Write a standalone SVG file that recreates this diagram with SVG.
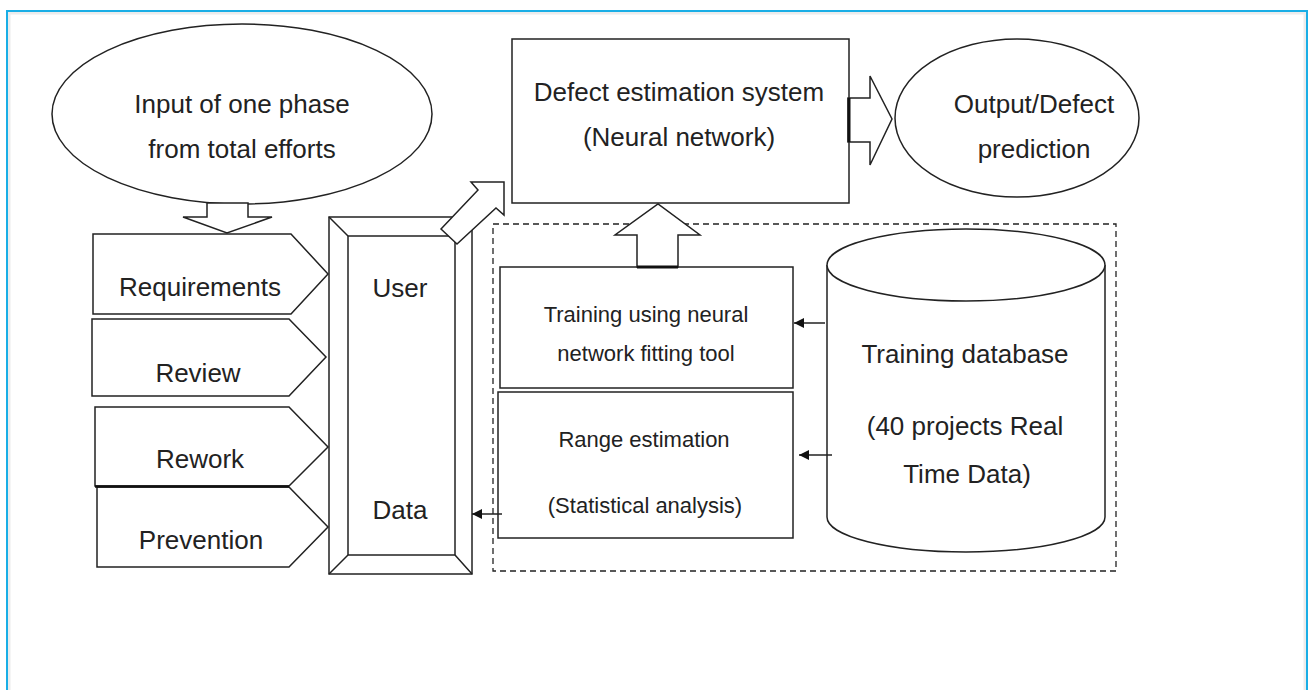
<svg xmlns="http://www.w3.org/2000/svg" width="1310" height="690" viewBox="0 0 1310 690">
<style>
.s{fill:#fff;stroke:#222;stroke-width:1.5}
.t{font-family:"Liberation Sans",Arial,sans-serif;font-size:26px;fill:#222;text-anchor:middle}
.ts{font-family:"Liberation Sans",Arial,sans-serif;font-size:22px;fill:#222;text-anchor:middle}
.c{stroke:#222;stroke-width:1.5;fill:none}
</style>
<defs>
<marker id="ah" viewBox="0 0 10 10" refX="10" refY="5" markerWidth="10" markerHeight="10" markerUnits="userSpaceOnUse" orient="auto">
<path d="M0,0 L10,5 L0,10 z" fill="#111"/>
</marker>
</defs>
<rect width="1310" height="690" fill="#fff"/>
<rect x="9" y="13" width="1296" height="700" fill="none" stroke="#ececec" stroke-width="3"/>
<rect x="7" y="11" width="1300" height="700" fill="none" stroke="#1aaee6" stroke-width="2"/>

<g id="input-ellipse">
<ellipse class="s" cx="242" cy="114" rx="190" ry="90"/>
<text class="t" x="242" y="113">Input of one phase</text>
<text class="t" x="242" y="158">from total efforts</text>
</g>

<g id="requirements">
<polygon class="s" points="93,234 291,234 328,274 291,314 93,314"/>
<text class="t" x="200" y="296">Requirements</text>
</g>
<g id="review">
<polygon class="s" points="92,319 289,319 326,357 289,396 92,396"/>
<text class="t" x="198" y="382">Review</text>
</g>
<g id="rework">
<polygon class="s" points="95,407 289,407 328,447 289,486 95,486"/>
<text class="t" x="200" y="468">Rework</text>
</g>
<g id="prevention">
<polygon class="s" points="97,487 289,487 328,527 289,567 97,567"/>
<line x1="95" y1="486.5" x2="289" y2="486.5" stroke="#111" stroke-width="2.5"/>
<text class="t" x="201" y="549">Prevention</text>
</g>

<g id="user-data">
<rect class="s" x="329" y="217" width="143" height="357"/>
<rect class="s" x="348" y="236" width="107" height="319"/>
<path class="c" d="M329,217 L348,236 M472,217 L455,236 M329,574 L348,555 M472,574 L455,555"/>
<text class="t" x="400" y="297">User</text>
<text class="t" x="400" y="519">Data</text>
</g>

<g id="defect-system">
<rect class="s" x="512" y="39" width="337" height="164"/>
<text class="t" x="679" y="101">Defect estimation system</text>
<text class="t" x="679" y="146">(Neural network)</text>
</g>

<g id="output">
<ellipse class="s" cx="1017" cy="118" rx="122" ry="79"/>
<text class="t" x="1034" y="113">Output/Defect</text>
<text class="t" x="1034" y="158">prediction</text>
</g>

<g id="dashed-group">
<rect x="493" y="224" width="623" height="347" fill="none" stroke="#222" stroke-width="1.3" stroke-dasharray="6,4"/>
</g>

<g id="training">
<rect class="s" x="500" y="267" width="293" height="121"/>
<text class="ts" x="646" y="322">Training using neural</text>
<text class="ts" x="646" y="361">network fitting tool</text>
</g>

<g id="range">
<rect class="s" x="498" y="392" width="295" height="146"/>
<text class="ts" x="644" y="447">Range estimation</text>
<text class="ts" x="645" y="513">(Statistical analysis)</text>
</g>

<g id="database">
<path class="s" d="M827,265 L827,517 A139,35 0 0 0 1105,517 L1105,265"/>
<ellipse class="s" cx="966" cy="265" rx="139" ry="36"/>
<text class="t" x="965" y="363">Training database</text>
<text class="t" x="965" y="435">(40 projects Real</text>
<text class="t" x="967" y="483">Time Data)</text>
</g>

<g id="connectors">
<polygon class="s" points="207,203 248,203 248,217 272,217 227,233 183,217 207,217"/>
<polygon class="s" points="441,229 478,190 471,182 504,182 504,215 496,208 457,244"/>
<polygon class="s" points="848,98 870,98 870,76 892,119 870,165 870,142 848,142"/>
<line x1="849" y1="98" x2="849" y2="142" stroke="#111" stroke-width="3"/>
<polygon class="s" points="637,267 637,235 615,235 658,204 700,235 678,235 678,267"/>
<line x1="637" y1="267" x2="678" y2="267" stroke="#111" stroke-width="3"/>
<line class="c" x1="825" y1="323" x2="794" y2="323" marker-end="url(#ah)"/>
<line class="c" x1="832" y1="455" x2="799" y2="455" marker-end="url(#ah)"/>
<line class="c" x1="502" y1="514" x2="472" y2="514" marker-end="url(#ah)"/>
</g>
</svg>
